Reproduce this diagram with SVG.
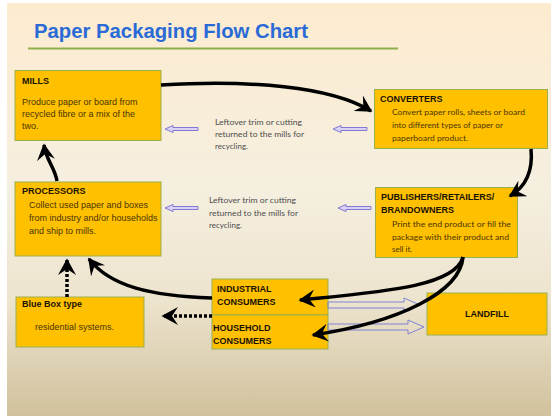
<svg xmlns="http://www.w3.org/2000/svg" width="551" height="416" viewBox="0 0 551 416">
<defs>
<linearGradient id="bg" x1="0" y1="0" x2="0" y2="1">
<stop offset="0" stop-color="#FDEBCF"/>
<stop offset="0.45" stop-color="#F5EFE0"/>
<stop offset="0.72" stop-color="#EDE4CE"/>
<stop offset="1" stop-color="#D1C19D"/>
</linearGradient>
<marker id="ah" viewBox="0 0 12 12" refX="10" refY="6" markerWidth="18" markerHeight="18" markerUnits="userSpaceOnUse" orient="auto">
<path d="M0,0 L11,6 L0,12 L4,6 z" fill="#000"/>
</marker>
<style>
.box{fill:#FFC000;stroke:#9BAF4F;stroke-width:1}
.hd{font-family:"Liberation Sans",Arial,sans-serif;font-weight:bold;font-size:9px;fill:#1a1200}
.bd{font-family:"Liberation Sans",Arial,sans-serif;font-size:9px;fill:#4a3400}
.cb{font-family:Lato,"Liberation Sans",sans-serif;font-size:8px;fill:#4a3400}
.mid{font-family:Lato,"Liberation Sans",sans-serif;font-size:8px;fill:#4d4d4d}
.cv{fill:none;stroke:#000;stroke-width:3.5;marker-end:url(#ah)}
.dt{fill:none;stroke:#000;stroke-width:3.5;stroke-dasharray:3 2;marker-end:url(#ah)}
.ho{fill:#D9D2F5;stroke:#8379D4;stroke-width:1}
.hr{fill:none;stroke:#7C83D6;stroke-width:1}
</style>
</defs>
<rect x="0" y="0" width="551" height="416" fill="#FFFFFF"/>
<rect x="7" y="3" width="544" height="413" fill="url(#bg)"/>
<text x="34" y="38" font-family="Liberation Sans,Arial,sans-serif" font-weight="bold" font-size="20" fill="#2A6AD6" textLength="274" lengthAdjust="spacingAndGlyphs">Paper Packaging Flow Chart</text>
<line x1="28" y1="48.5" x2="398" y2="48.5" stroke="#8DB04A" stroke-width="2"/>

<g id="mills">
<rect class="box" x="15" y="70.5" width="146" height="70"/>
<text class="hd" x="22" y="84">MILLS</text>
<text class="bd" x="22" y="105">Produce paper or board from</text>
<text class="bd" x="22" y="117">recycled  fibre or a mix of the</text>
<text class="bd" x="22" y="129">two.</text>
</g>
<g id="converters">
<rect class="box" x="374.5" y="89.5" width="173" height="59"/>
<text class="hd" x="380" y="102">CONVERTERS</text>
<text class="cb" x="392" y="115" textLength="133" lengthAdjust="spacingAndGlyphs">Convert paper rolls, sheets or board</text>
<text class="cb" x="392" y="128" textLength="111" lengthAdjust="spacingAndGlyphs">into different types of paper or</text>
<text class="cb" x="392" y="141" textLength="76" lengthAdjust="spacingAndGlyphs">paperboard product.</text>
</g>
<g id="processors">
<rect class="box" x="15" y="182" width="146" height="74"/>
<text class="hd" x="22" y="194">PROCESSORS</text>
<text class="bd" x="29" y="208">Collect used paper and boxes</text>
<text class="bd" x="29" y="221">from industry  and/or households</text>
<text class="bd" x="29" y="234">and ship to mills.</text>
</g>
<g id="publishers">
<rect class="box" x="375.5" y="187.5" width="142" height="70"/>
<text class="hd" x="381" y="200">PUBLISHERS/RETAILERS/</text>
<text class="hd" x="381" y="213">BRANDOWNERS</text>
<text class="cb" x="392" y="227" textLength="119" lengthAdjust="spacingAndGlyphs">Print the end product  or fill the</text>
<text class="cb" x="392" y="240" textLength="117" lengthAdjust="spacingAndGlyphs">package with their product and</text>
<text class="cb" x="392" y="252">sell it.</text>
</g>
<g id="bluebox">
<rect class="box" x="16" y="297" width="128" height="50"/>
<text class="hd" x="22" y="307">Blue Box type</text>
<text class="bd" x="35" y="330">residential systems.</text>
</g>
<g id="industrial">
<rect class="box" x="212" y="279" width="116" height="36"/>
<text class="hd" x="217" y="292">INDUSTRIAL</text>
<text class="hd" x="217" y="305">CONSUMERS</text>
</g>
<g id="household">
<rect class="box" x="212" y="315" width="116" height="34"/>
<text class="hd" x="213" y="331">HOUSEHOLD</text>
<text class="hd" x="213" y="344">CONSUMERS</text>
</g>
<g id="landfill">
<rect class="box" x="427" y="293" width="120" height="42"/>
<text class="hd" x="487" y="317" text-anchor="middle">LANDFILL</text>
</g>
<g id="notes">
<text class="mid" x="215" y="125" textLength="87" lengthAdjust="spacingAndGlyphs">Leftover trim or cutting</text>
<text class="mid" x="215" y="137" textLength="89" lengthAdjust="spacingAndGlyphs">returned to the mills for</text>
<text class="mid" x="215" y="149">recycling.</text>
<text class="mid" x="209" y="203" textLength="87" lengthAdjust="spacingAndGlyphs">Leftover trim or cutting</text>
<text class="mid" x="209" y="216" textLength="89" lengthAdjust="spacingAndGlyphs">returned to the mills for</text>
<text class="mid" x="209" y="228">recycling.</text>
</g>
<g id="connectors">
<polygon class="ho" points="165,129 173,125.5 173,127.5 198,127.5 198,130.5 173,130.5 173,132.5"/>
<polygon class="ho" points="333,129 341,125.5 341,127.5 367,127.5 367,130.5 341,130.5 341,132.5"/>
<polygon class="ho" points="165,208 173,204.5 173,206.5 198,206.5 198,209.5 173,209.5 173,211.5"/>
<polygon class="ho" points="338,208 346,204.5 346,206.5 371,206.5 371,209.5 346,209.5 346,211.5"/>
<polygon class="hr" points="328,302 404,302 404,298 420,305 404,312 404,308 328,308"/>
<polygon class="hr" points="328,324 408,324 408,320 424,327 408,334 408,330 328,330"/>
<path class="cv" d="M161,85 C250,80 330,86 371,111"/>
<path class="cv" d="M531,149 C533,170 527,186 510,196"/>
<path class="cv" d="M463,257 C455,287 380,292 300,300"/>
<path class="cv" d="M463,257 C460,292 400,322 313,335"/>
<path class="cv" d="M212,298 C150,296 110,286 89,259"/>
<path class="cv" d="M57,181 C55,168 46,160 44,145"/>
<path class="dt" d="M67,297 L67,260"/>
<path class="dt" d="M212,316 L163,316"/>
</g>
</svg>
